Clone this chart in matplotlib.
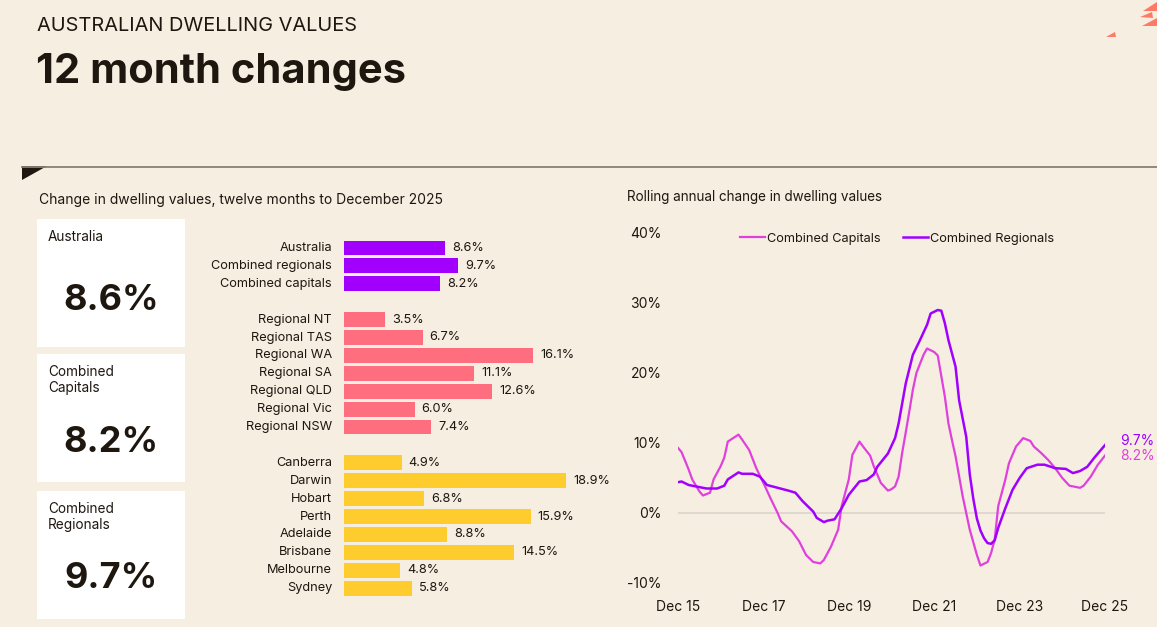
import matplotlib.pyplot as plt
from matplotlib.patches import Rectangle, Polygon
from matplotlib.lines import Line2D

plt.rcParams['font.family'] = ['Inter', 'DejaVu Sans']

W, H = 1157, 627
BG = '#F7EEE2'
INK = '#1E170F'
PURPLE = '#A100FF'
PINK_BAR = '#FF6E7F'
YELLOW = '#FFCC2E'
CAP_LINE = '#E040DC'

# bar chart data
bar_labels = ['Australia', 'Combined regionals', 'Combined capitals',
              'Regional NT', 'Regional TAS', 'Regional WA', 'Regional SA',
              'Regional QLD', 'Regional Vic', 'Regional NSW',
              'Canberra', 'Darwin', 'Hobart', 'Perth', 'Adelaide',
              'Brisbane', 'Melbourne', 'Sydney']
bar_values = [8.6, 9.7, 8.2,
              3.5, 6.7, 16.1, 11.1, 12.6, 6.0, 7.4,
              4.9, 18.9, 6.8, 15.9, 8.8, 14.5, 4.8, 5.8]
bar_groups = [0, 0, 0, 1, 1, 1, 1, 1, 1, 1, 2, 2, 2, 2, 2, 2, 2, 2]
group_colors = [PURPLE, PINK_BAR, YELLOW]

# headline boxes
box_titles = ['Australia', 'Combined\nCapitals', 'Combined\nRegionals']
box_values = ['8.6%', '8.2%', '9.7%']

# rolling annual change, months since Dec 2015
cap_months = [0, 1, 3, 4, 6, 7, 9, 10, 12, 13, 14, 17, 18, 20, 22, 24, 26, 28, 29,
              32, 34, 36, 38, 40, 41, 43, 45, 46, 48, 49, 51, 52, 54, 55, 57, 59,
              60, 61, 62, 63, 64, 65, 66, 67, 69, 70, 72, 73, 75, 76, 77, 78, 80,
              82, 84, 85, 87, 88, 89, 90, 92, 93, 95, 97, 99, 100, 102, 104, 106,
              108, 110, 112, 113, 114, 116, 118, 120]
cap_values = [9.3, 8.7, 6.2, 4.8, 3.1, 2.5, 2.9, 4.8, 6.7, 7.9, 10.2, 11.2, 10.5,
              9.0, 6.4, 4.3, 2.1, 0.0, -1.2, -2.6, -4.0, -6.0, -7.0, -7.2, -6.7,
              -4.8, -2.4, 1.0, 4.8, 8.3, 10.2, 9.5, 8.2, 6.7, 4.3, 3.2, 3.4, 3.8,
              5.2, 8.6, 11.5, 14.5, 17.6, 20.0, 22.6, 23.5, 23.0, 22.5, 16.6, 12.8,
              10.4, 8.1, 2.4, -2.4, -6.0, -7.5, -7.0, -5.7, -3.8, 1.0, 4.8, 7.1,
              9.5, 10.7, 10.3, 9.5, 8.6, 7.6, 6.4, 5.0, 3.9, 3.7, 3.6, 3.9, 5.2,
              6.9, 8.2]
reg_months = [0, 1, 3, 4, 6, 8, 11, 13, 14, 17, 18, 21, 23, 25, 28, 31, 33, 35, 38,
              39, 41, 42, 44, 46, 48, 51, 53, 55, 56, 59, 61, 62, 64, 66, 68, 70,
              71, 73, 74, 75, 76, 78, 79, 81, 82, 83, 84, 85, 86, 87, 88, 89, 90,
              92, 94, 96, 98, 101, 103, 106, 109, 111, 113, 115, 117, 120]
reg_values = [4.4, 4.5, 4.0, 3.9, 3.7, 3.5, 3.5, 3.9, 4.8, 5.8, 5.6, 5.6, 5.2, 4.0,
              3.6, 3.2, 2.9, 1.7, 0.2, -0.7, -1.3, -1.1, -0.9, 0.7, 2.6, 4.5, 4.7,
              5.5, 6.6, 8.5, 10.7, 12.8, 18.5, 22.6, 24.7, 26.9, 28.5, 29.0, 28.9,
              27.1, 24.7, 20.9, 16.1, 10.9, 5.5, 2.0, -0.8, -2.5, -3.6, -4.3, -4.4,
              -3.9, -2.1, 0.7, 3.3, 5.0, 6.4, 6.9, 6.9, 6.4, 6.3, 5.7, 6.0, 6.6,
              7.9, 9.7]
x_ticks = [0, 24, 48, 72, 96, 120]
x_tick_labels = ['Dec 15', 'Dec 17', 'Dec 19', 'Dec 21', 'Dec 23', 'Dec 25']
y_ticks = [-10, 0, 10, 20, 30, 40]


def fx(x):
    return x / W


def fy(y):
    return 1 - y / H


def px_axes(left, top, right, bottom):
    return [fx(left), fy(bottom), (right - left) / W, (bottom - top) / H]


fig = plt.figure(figsize=(W / 100, H / 100), dpi=100, facecolor=BG)

# header
fig.text(fx(37), fy(31), 'AUSTRALIAN DWELLING VALUES', fontsize=14.4, color=INK, va='baseline')
fig.text(fx(36), fy(83), '12 month changes', fontsize=30, fontweight='bold', color=INK, va='baseline')

# little decorative triangles top right
for tri in [[(1143, 11), (1157, 2), (1157, 11)], [(1140, 17), (1152, 12), (1153, 18)],
            [(1142, 26), (1157, 18), (1157, 26)], [(1106, 37), (1115, 32), (1116, 37)]]:
    fig.patches.append(Polygon([(fx(a), fy(b)) for a, b in tri], closed=True,
                               transform=fig.transFigure, color='#FF7A66', lw=0))

# divider
fig.lines.append(Line2D([fx(22), fx(1157)], [fy(166.5), fy(166.5)], transform=fig.transFigure,
                        color='#8A7F72', lw=1.3))
fig.patches.append(Polygon([(fx(22), fy(166)), (fx(47), fy(166)), (fx(22), fy(180))], closed=True,
                           transform=fig.transFigure, color=INK, lw=0))

fig.text(fx(39), fy(200), 'Change in dwelling values, twelve months to December 2025',
         fontsize=10, color=INK, va='center')
fig.text(fx(627), fy(197), 'Rolling annual change in dwelling values',
         fontsize=9.7, color=INK, va='center')

# headline boxes
box_tops = [219, 354, 491]
box_value_y = [301, 442, 578]
for top, title, val, vy in zip(box_tops, box_titles, box_values, box_value_y):
    fig.patches.append(Rectangle((fx(37), fy(top + 128)), 148 / W, 128 / H,
                                 transform=fig.transFigure, color='white', lw=0))
    fig.text(fx(48), fy(top + 11), title, fontsize=9.8, color=INK, va='top', linespacing=1.15)
    fig.text(fx(111), fy(vy), val, fontsize=26, fontweight='bold', color=INK,
             ha='center', va='center')

# bar chart
row_pos = [i + (2 if g == 2 else 1 if g == 1 else 0) for i, g in enumerate(bar_groups)]
bar_step = 17.9
bax = fig.add_axes(px_axes(344, 248 - bar_step / 2, 344 + 11.75 * 20, 248 + bar_step * 19.5))
bax.set_facecolor('none')
bax.barh(row_pos, bar_values, height=0.83, color=[group_colors[g] for g in bar_groups])
bax.set_xlim(0, 20)
bax.set_ylim(19.5, -0.5)
bax.axis('off')
for p, lab, v in zip(row_pos, bar_labels, bar_values):
    bax.annotate(lab, (0, p), xytext=(-8.6, 0), textcoords='offset points', ha='right',
                 va='center', fontsize=9.2, color=INK)
    bax.annotate(f'{v:.1f}%', (v, p), xytext=(5, 0), textcoords='offset points', ha='left',
                 va='center', fontsize=9.2, color=INK)

# line chart
lax = fig.add_axes(px_axes(678, 233, 1105, 583))
lax.set_facecolor('none')
lax.axhline(0, color='#DCD4CA', lw=1.2, zorder=1)
lax.plot(cap_months, cap_values, color=CAP_LINE, lw=1.6, label='Combined Capitals', zorder=3)
lax.plot(reg_months, reg_values, color=PURPLE, lw=1.8, label='Combined Regionals', zorder=4)
lax.set_xlim(0, 120)
lax.set_ylim(-10, 40)
lax.set_xticks(x_ticks)
lax.set_xticklabels(x_tick_labels)
lax.set_yticks(y_ticks)
lax.set_yticklabels([f'{t}%' for t in y_ticks])
lax.tick_params(length=0, labelsize=10, colors=INK)
lax.tick_params(axis='y', pad=12)
lax.tick_params(axis='x', pad=12)
for s in lax.spines.values():
    s.set_visible(False)
lax.legend(loc='center', bbox_to_anchor=(0.513, 0.983), ncol=2, frameon=False, fontsize=9.2,
           handlelength=2.0, handletextpad=0.15, columnspacing=1.7, labelcolor=INK)
lax.annotate(f'{reg_values[-1]:.1f}%', (reg_months[-1], reg_values[-1]), xytext=(11, 3),
             textcoords='offset points', color=PURPLE, fontsize=10, va='center',
             annotation_clip=False)
lax.annotate(f'{cap_values[-1]:.1f}%', (cap_months[-1], cap_values[-1]), xytext=(11, 0),
             textcoords='offset points', color=CAP_LINE, fontsize=10, va='center',
             annotation_clip=False)

fig.savefig('out.png', dpi=100, facecolor=BG)
